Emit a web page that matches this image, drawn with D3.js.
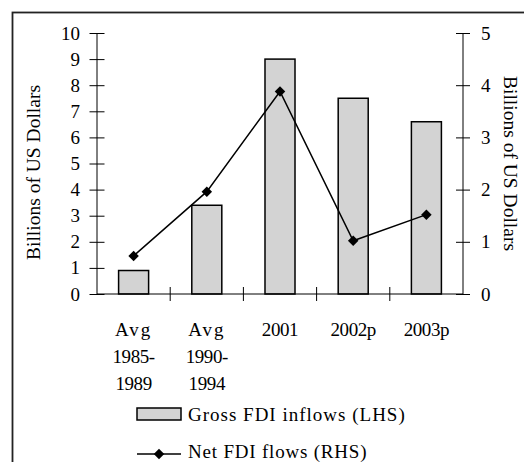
<!DOCTYPE html>
<html>
<head>
<meta charset="utf-8">
<script src="https://cdn.jsdelivr.net/npm/d3@7"></script>
<style>
    body { margin: 0; background: #fff; }
    svg text { font-family: "Liberation Serif", "Times New Roman", serif; fill: #000; }
</style>
</head>
<body>
<div id="chart"></div>
<script>
// categories and values
let categories = [["Avg", "1985-", "1989"], ["Avg", "1990-", "1994"], ["2001"], ["2002p"], ["2003p"]];
let grossInflows = [0.9, 3.4, 9.0, 7.5, 6.6];   // LHS, bars
let netFlows = [0.73, 1.96, 3.88, 1.02, 1.52];    // RHS, line
let leftTicks = [0, 1, 2, 3, 4, 5, 6, 7, 8, 9, 10];
let rightTicks = [0, 1, 2, 3, 4, 5];

let width = 524, height = 462;
let margin = {top: 33, right: 61, bottom: 168, left: 97};

let svg = d3.select("#chart").append("svg")
    .attr("width", width)
    .attr("height", height);

// outer frame (runs off the right and bottom edges)
svg.append("rect")
    .attr("x", 12.5)
    .attr("y", 12.5)
    .attr("width", 700)
    .attr("height", 700)
    .attr("fill", "none")
    .attr("stroke", "#222")
    .attr("stroke-width", 1.8);

let keys = categories.map((d, i) => "c" + i);

let x = d3.scaleBand()
    .domain(keys)
    .range([margin.left, width - margin.right]);

let yL = d3.scaleLinear()
    .domain([0, 10])
    .range([height - margin.bottom, margin.top]);

let yR = d3.scaleLinear()
    .domain([0, 5])
    .range([height - margin.bottom, margin.top]);

let barWidth = x.bandwidth() * 0.41;

// bars
svg.selectAll(".bar")
    .data(grossInflows)
    .enter()
    .append("rect")
    .attr("class", "bar")
    .attr("x", (d, i) => x(keys[i]) + x.bandwidth() / 2 - barWidth / 2)
    .attr("y", d => yL(d))
    .attr("width", barWidth)
    .attr("height", d => yL(0) - yL(d))
    .attr("fill", "#d3d3d3")
    .attr("stroke", "#000")
    .attr("stroke-width", 1.5);

// left axis
let leftAxis = svg.append("g")
    .attr("transform", "translate(" + margin.left + ",0)")
    .call(d3.axisLeft(yL).tickValues(leftTicks).tickFormat(d3.format("d")).tickSize(7).tickPadding(10));
leftAxis.selectAll(".tick line").attr("x2", -7.5).attr("x1", 7.5);

// right axis
let rightAxis = svg.append("g")
    .attr("transform", "translate(" + (width - margin.right) + ",0)")
    .call(d3.axisRight(yR).tickValues(rightTicks).tickFormat(d3.format("d")).tickSize(7).tickPadding(11));
rightAxis.selectAll(".tick line").attr("x1", -7).attr("x2", 7);

// bottom axis with ticks between categories
let xAxis = svg.append("g")
    .attr("transform", "translate(0," + yL(0) + ")");
xAxis.append("line")
    .attr("x1", margin.left)
    .attr("x2", width - margin.right)
    .attr("stroke", "#000");
xAxis.selectAll(".xtick")
    .data(keys.slice(1))
    .enter()
    .append("line")
    .attr("x1", d => x(d))
    .attr("x2", d => x(d))
    .attr("y1", -7)
    .attr("y2", 7)
    .attr("stroke", "#000");

[leftAxis, rightAxis].forEach(g => {
    g.select(".domain").attr("stroke", "#000").attr("d", null);
    g.selectAll(".tick line").attr("stroke", "#000");
    g.selectAll(".tick text").attr("font-size", 19).attr("font-family", "Liberation Serif").attr("fill", "#000");
});
leftAxis.append("line").attr("y1", yL(10)).attr("y2", yL(0)).attr("stroke", "#000");
rightAxis.append("line").attr("y1", yR(5)).attr("y2", yR(0)).attr("stroke", "#000");

// category labels
let catLabels = svg.selectAll(".cat")
    .data(categories)
    .enter()
    .append("text")
    .attr("class", "cat")
    .attr("text-anchor", "middle")
    .attr("font-size", 19)
    .attr("transform", (d, i) => "translate(" + (x(keys[i]) + x.bandwidth() / 2) + "," + (yL(0) + 42) + ")");
catLabels.selectAll("tspan")
    .data(d => d)
    .enter()
    .append("tspan")
    .attr("x", 0)
    .attr("y", (d, i) => i * 27)
    .attr("letter-spacing", d => d === "Avg" ? 2 : -0.4)
    .text(d => d);

// line series
let line = d3.line()
    .x((d, i) => x(keys[i]) + x.bandwidth() / 2)
    .y(d => yR(d));

svg.append("path")
    .datum(netFlows)
    .attr("d", line)
    .attr("fill", "none")
    .attr("stroke", "#000")
    .attr("stroke-width", 1.5);

let diamond = d3.symbol().type(d3.symbolDiamond2).size(70);

svg.selectAll(".pt")
    .data(netFlows)
    .enter()
    .append("path")
    .attr("class", "pt")
    .attr("d", diamond)
    .attr("transform", (d, i) => "translate(" + (x(keys[i]) + x.bandwidth() / 2) + "," + yR(d) + ")")
    .attr("fill", "#000");

// axis titles
svg.append("text")
    .attr("transform", "translate(40," + (yL(5) + 9) + ") rotate(-90)")
    .attr("text-anchor", "middle")
    .attr("font-size", 19.5)
    .text("Billions of US Dollars");

svg.append("text")
    .attr("transform", "translate(504," + yR(2.5) + ") rotate(90)")
    .attr("text-anchor", "middle")
    .attr("font-size", 19.5)
    .text("Billions of US Dollars");

// legend
let legend = svg.append("g")
    .attr("transform", "translate(137,0)");

legend.append("rect")
    .attr("x", 0)
    .attr("y", 408)
    .attr("width", 44)
    .attr("height", 12)
    .attr("fill", "#d3d3d3")
    .attr("stroke", "#000")
    .attr("stroke-width", 1.5);

legend.append("text")
    .attr("x", 51)
    .attr("y", 421)
    .attr("font-size", 19)
    .attr("letter-spacing", 1)
    .text("Gross FDI inflows (LHS)");

legend.append("line")
    .attr("x1", 0)
    .attr("x2", 44)
    .attr("y1", 454)
    .attr("y2", 454)
    .attr("stroke", "#000")
    .attr("stroke-width", 1.5);

legend.append("path")
    .attr("d", diamond)
    .attr("transform", "translate(22,454)")
    .attr("fill", "#000");

legend.append("text")
    .attr("x", 51)
    .attr("y", 458)
    .attr("font-size", 19)
    .attr("letter-spacing", 0.8)
    .text("Net FDI flows (RHS)");
</script>
</body>
</html>
